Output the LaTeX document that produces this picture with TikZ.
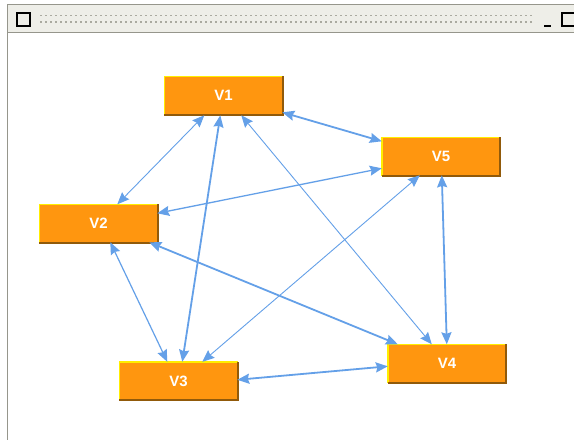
\documentclass[tikz,border=0pt]{standalone}
\usepackage{fontspec}
\setmainfont{Liberation Sans}
\usetikzlibrary{arrows.meta,calc}
\definecolor{boxfill}{RGB}{255,150,15}
\definecolor{boxlight}{RGB}{255,238,0}
\definecolor{boxdark}{RGB}{145,90,10}
\definecolor{edgeblue}{RGB}{100,160,232}
\definecolor{barbg}{RGB}{238,238,232}
\definecolor{framegray}{RGB}{150,150,140}
\definecolor{griptone}{RGB}{170,170,160}

\begin{document}
\begin{tikzpicture}[x=1pt,y=-1pt,
  vbox/.style={fill=boxfill, minimum width=118pt, minimum height=38pt,
    inner sep=0pt, text=white, font=\bfseries\fontsize{15}{17}\selectfont},
  tip/.tip={Stealth[length=12pt,width=10pt,inset=1.5pt]},
  link/.style={draw=edgeblue, line width=0.9pt, tip-tip},
  heavy/.style={link, line width=1.8pt},
]
\useasboundingbox (0,0) rectangle (574,440);
\fill[white] (0,0) rectangle (574,440);

% window frame and title bar
\fill[barbg] (7,4) rectangle (574,32);
\draw[framegray, line width=1pt] (7,4) -- (574,4);
\draw[framegray, line width=1pt] (7,32) -- (574,32);
\draw[framegray, line width=1pt] (7,4) -- (7,440);
\draw[black, line width=1.5pt] (17,13) rectangle (30,26);
\foreach \gx in {40,45,...,530} {
  \fill[griptone] (\gx,14.5) rectangle ++(1.5,1.5);
  \fill[griptone] (\gx,21) rectangle ++(1.5,1.5);
}
\draw[black, line width=1.8pt] (544,26) -- (551,26);
\draw[black, line width=1.5pt] (562,13) rectangle (577,26);

% vertices
\node[vbox] (v1) at (223.5,95.5) {V1};
\node[vbox] (v5) at (441,156.5) {V5};
\node[vbox] (v2) at (98.5,223.5) {V2};
\node[vbox] (v3) at (178.5,381) {V3};
\node[vbox] (v4) at (447,363.5) {V4};

% raised bevel on each vertex box
\foreach \n in {v1,v2,v3,v4,v5} {
  \draw[boxlight, line width=1.5pt] (\n.south west) |- (\n.north east);
  \draw[boxdark, line width=2pt] (\n.south west) -| (\n.north east);
}

% edges
\draw[heavy] ($(v1.north west)+(118,36)$) -- ($(v5.north west)+(0,4)$);
\draw[link]  ($(v1.north west)+(40,39)$)  -- ($(v2.north west)+(78,0)$);
\draw[heavy] ($(v1.north west)+(56,39)$)  -- ($(v3.north west)+(63,0)$);
\draw[link]  ($(v1.north west)+(77,39)$)  -- ($(v4.north west)+(44,0)$);
\draw[link, line width=1.3pt] ($(v5.north west)+(0,31)$) -- ($(v2.north west)+(118,9)$);
\draw[link]  ($(v5.north west)+(38,38)$)  -- ($(v3.north west)+(83,0)$);
\draw[heavy] ($(v5.north west)+(60,38)$)  -- ($(v4.north west)+(59,0)$);
\draw[link, line width=1.2pt] ($(v2.north west)+(71,38)$) -- ($(v3.north west)+(48,0)$);
\draw[heavy] ($(v2.north west)+(110,38)$) -- ($(v4.north west)+(10,0)$);
\draw[heavy] ($(v3.north west)+(118,18)$) -- ($(v4.north west)+(0,22)$);
\end{tikzpicture}
\end{document}
